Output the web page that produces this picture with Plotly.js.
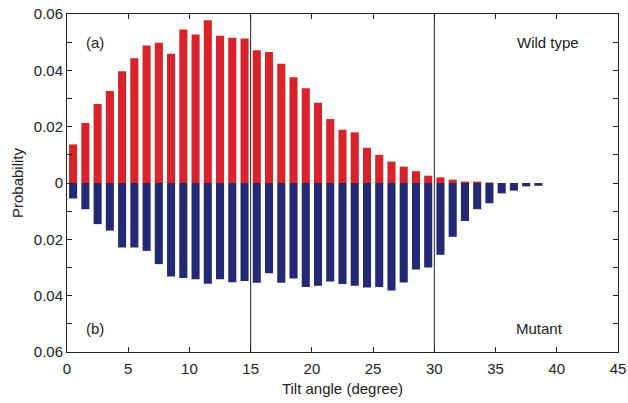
<!DOCTYPE html>
<html>
<head>
<meta charset="utf-8">
<script src="https://cdn.plot.ly/plotly-3.0.1.min.js"></script>
<style>html,body{margin:0;padding:0;background:#fff}#chart{width:628px;height:403px}</style>
</head>
<body>
<div id="chart"></div>
<script>
// Bin centres (degrees)
const angles = [0.5,1.5,2.5,3.5,4.5,5.5,6.5,7.5,8.5,9.5,10.5,11.5,12.5,13.5,14.5,15.5,16.5,17.5,18.5,19.5,20.5,21.5,22.5,23.5,24.5,25.5,26.5,27.5,28.5,29.5,30.5,31.5,32.5,33.5,34.5,35.5,36.5,37.5,38.5];
// Wild type probabilities (plotted upward)
const wildType = [0.0137,0.0213,0.0281,0.0327,0.0397,0.0443,0.0488,0.0498,0.0459,0.0545,0.0527,0.0578,0.0523,0.0516,0.0513,0.0471,0.0465,0.0423,0.0375,0.0336,0.0285,0.0227,0.0189,0.0180,0.0125,0.0100,0.0076,0.0058,0.0042,0.0026,0.0020,0.0012,0.0005,0.0005,0.0002,0,0,0,0];
// Mutant probabilities (plotted downward)
const mutant = [0.0055,0.0093,0.0146,0.0169,0.0229,0.0229,0.0241,0.0288,0.0332,0.0337,0.0342,0.0358,0.0342,0.0352,0.0348,0.0354,0.0320,0.0354,0.0339,0.0369,0.0365,0.0350,0.0359,0.0365,0.0371,0.0369,0.0382,0.0353,0.0307,0.0300,0.0255,0.0191,0.0135,0.0093,0.0072,0.0037,0.0027,0.0012,0.0010];
const yTickVals = [-0.06,-0.05,-0.04,-0.03,-0.02,-0.01,0,0.01,0.02,0.03,0.04,0.05,0.06];
const yTickText = ['0.06','','0.04','','0.02','','0','','0.02','','0.04','','0.06'];
const xTickVals = [0,5,10,15,20,25,30,35,40,45];
const dividers = [15,30];

const red = '#d9232b', blue = '#232a73';
const font = {family:'Liberation Sans, Arial, sans-serif', size:15, color:'#222'};

const traces = [
  {type:'bar', x:angles, y:wildType, width:0.66, marker:{color:red, line:{width:0}}, name:'Wild type', hoverinfo:'x+y'},
  {type:'bar', x:angles, y:mutant.map(v=>-v), width:0.66, marker:{color:blue, line:{width:0}}, name:'Mutant', hoverinfo:'x+y'}
];

const layout = {
  width:628, height:403,
  margin:{l:67, r:10, t:14, b:51},
  paper_bgcolor:'#fff', plot_bgcolor:'#fff',
  showlegend:false,
  barmode:'overlay',
  font:font,
  xaxis:{range:[0,45], tickvals:xTickVals, ticks:'inside', ticklen:5, tickcolor:'#222',
         showline:true, linecolor:'#222', linewidth:1, mirror:'ticks', showgrid:false, zeroline:false,
         tickfont:font, ticklabelstandoff:3, title:{text:'Tilt angle (degree)', font:font, standoff:7}},
  xaxis2:{range:[0,45], overlaying:'x', anchor:'free', position:0.5, side:'bottom', tickvals:xTickVals.slice(1,9),
          ticks:'inside', ticklen:3, tickcolor:'#222', showticklabels:false, showline:true, linecolor:'#222',
          linewidth:1, showgrid:false, zeroline:false},
  yaxis:{range:[-0.06,0.06], tickvals:yTickVals, ticktext:yTickText, ticks:'inside', ticklen:5, tickcolor:'#222',
         showline:true, linecolor:'#222', linewidth:1, mirror:'ticks', showgrid:false, zeroline:false,
         tickfont:font, title:{text:'Probability', font:font, standoff:6}},
  shapes: dividers.map(d=>({type:'line', xref:'x', yref:'paper', x0:d, x1:d, y0:0, y1:1, line:{color:'#222', width:1}})),
  annotations:[
    {text:'(a)', xref:'paper', yref:'paper', x:0.051, y:0.917, xanchor:'center', yanchor:'middle', showarrow:false, font:font},
    {text:'Wild type', xref:'paper', yref:'paper', x:0.873, y:0.917, xanchor:'center', yanchor:'middle', showarrow:false, font:font},
    {text:'(b)', xref:'paper', yref:'paper', x:0.051, y:0.071, xanchor:'center', yanchor:'middle', showarrow:false, font:font},
    {text:'Mutant', xref:'paper', yref:'paper', x:0.858, y:0.071, xanchor:'center', yanchor:'middle', showarrow:false, font:font}
  ]
};
Plotly.newPlot('chart', traces, layout, {displayModeBar:false, staticPlot:true});
</script>
</body>
</html>
